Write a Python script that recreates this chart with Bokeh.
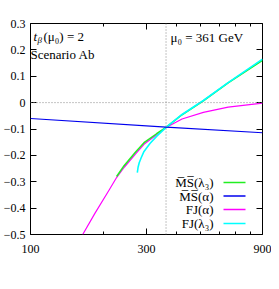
from bokeh.plotting import figure
from bokeh.models import (FixedTicker, LogAxis, LinearAxis, Span, Label,
                          BoxAnnotation, CustomJSTickFormatter)
from bokeh.embed import file_html
from bokeh.resources import INLINE

# ---- data ----
mu0 = 361
x_ticks = [100, 300, 900]
x_minor = [200, 400, 500, 600, 700, 800]
y_ticks = [-0.5, -0.4, -0.3, -0.2, -0.1, 0.0, 0.1, 0.2, 0.3]

mu_ms_l3 = [226, 243, 270, 293, 330, 361, 420, 514, 650, 900]
c_ms_l3 = [-0.28, -0.238, -0.188, -0.152, -0.118, -0.094, -0.046, 0.007, 0.075, 0.16]

mu_ms_a = [100, 361, 900]
c_ms_a = [-0.06, -0.093, -0.114]

mu_fj_a = [164, 184, 210, 226, 243, 270, 293, 330, 361, 420, 514, 650, 900]
c_fj_a = [-0.5, -0.42, -0.333, -0.284, -0.245, -0.195, -0.158, -0.122, -0.094,
          -0.062, -0.037, -0.017, -0.002]

mu_fj_l3 = [275, 277, 280, 285, 293, 310, 330, 361, 420, 514, 650, 900]
c_fj_l3 = [-0.265, -0.245, -0.228, -0.21, -0.185, -0.155, -0.128, -0.094,
           -0.045, 0.008, 0.076, 0.165]

legend_labels = ["M\u0305S\u0305(\u03bb\u2083)", "M\u0305S\u0305(\u03b1)", "FJ(\u03b1)", "FJ(\u03bb\u2083)"]
legend_colors = ["#22ee22", "#0000ee", "#ff00ff", "#00ffff"]

FONT = "Liberation Serif"

p = figure(width=271, height=281, x_axis_type="log", x_range=(100, 900),
           y_range=(-0.5, 0.3), output_backend="svg", toolbar_location=None,
           min_border_left=27, min_border_right=9, min_border_top=23,
           min_border_bottom=47)
p.grid.visible = False
p.outline_line_color = "black"
p.outline_line_width = 1

xt = FixedTicker(ticks=x_ticks, minor_ticks=x_minor)
yt = FixedTicker(ticks=y_ticks, minor_ticks=[])
yfmt = CustomJSTickFormatter(code="""
if (Math.abs(tick) < 1e-9) return "0";
return tick.toFixed(1).replace("-", "\\u2212");
""")
xfmt = CustomJSTickFormatter(code="return tick.toFixed(0);")
blank = CustomJSTickFormatter(code='return "";')

def style_axis(ax):
    ax.axis_line_color = None
    ax.major_tick_in = 6
    ax.major_tick_out = 0
    ax.minor_tick_in = 3
    ax.minor_tick_out = 0
    ax.major_tick_line_color = "black"
    ax.minor_tick_line_color = "black"
    ax.major_label_text_font = FONT
    ax.major_label_text_font_size = "12px"
    ax.major_label_text_color = "black"

xa = p.xaxis[0]
xa.ticker = xt
xa.formatter = xfmt
style_axis(xa)
xa.major_label_standoff = 10

ya = p.yaxis[0]
ya.ticker = yt
ya.formatter = yfmt
style_axis(ya)
ya.major_label_standoff = 5

top = LogAxis(ticker=FixedTicker(ticks=x_ticks, minor_ticks=x_minor), formatter=blank)
style_axis(top)
top.major_label_standoff = 0
p.add_layout(top, "above")
right = LinearAxis(ticker=FixedTicker(ticks=y_ticks, minor_ticks=[]), formatter=blank)
style_axis(right)
right.major_label_standoff = 0
p.add_layout(right, "right")

# dotted reference lines
p.add_layout(Span(location=mu0, dimension="height", line_color="#888888",
                  line_dash="1 2", line_width=1))
p.add_layout(Span(location=0, dimension="width", line_color="#888888",
                  line_dash="1 2", line_width=1))

# curves
p.line(mu_fj_a, c_fj_a, line_color=legend_colors[2], line_width=1.2)
p.line(mu_ms_l3, c_ms_l3, line_color=legend_colors[0], line_width=1.5)
p.line(mu_fj_l3, c_fj_l3, line_color=legend_colors[3], line_width=1.6)
p.line(mu_ms_a, c_ms_a, line_color=legend_colors[1], line_width=1.1)

# screen positions below are relative to the frame's bottom-left corner
def lab(text, x, y, size="13px", style="normal", align="left", baseline="alphabetic"):
    p.add_layout(Label(x=x, y=y, x_units="screen", y_units="screen", text=text,
                       text_font=FONT, text_font_size=size, text_font_style=style,
                       text_align=align, text_baseline=baseline, text_color="black"))

# y title: c_{beta-alpha}|_i
lab("c", -27, 229, size="14px", style="italic")
lab("\u03b2\u2212\u03b1", -20, 226, size="10px", style="italic")
lab("|", 8, 228, size="14px")
lab("i", 12, 225, size="10px", style="italic")

# x title: mu_r [GeV]
lab("\u03bc", 88, -41, size="14px", style="italic")
lab("r", 96, -44, size="10px")
lab("[GeV]", 104, -41, size="14px")

# annotations
lab("t", 3, 198, style="italic")
lab("\u03b2", 7, 195, size="9px", style="italic")
lab("(\u03bc\u2080) = 2", 13, 198)
lab("Scenario Ab", 0, 180)
lab("\u03bc\u2080 = 361 GeV", 140, 197)

# custom legend (label left, line sample right)
rows = [52, 38.5, 25, 11]
for txt, col, ry in zip(legend_labels, legend_colors, rows):
    lab(txt, 183, ry, align="right", baseline="middle")
    p.add_layout(BoxAnnotation(left=193, right=215, bottom=ry - 0.8, top=ry + 0.8,
                               left_units="screen", right_units="screen",
                               bottom_units="screen", top_units="screen",
                               fill_color=col, fill_alpha=1, line_color=None))

open("out.html", "w").write(file_html(p, INLINE))
